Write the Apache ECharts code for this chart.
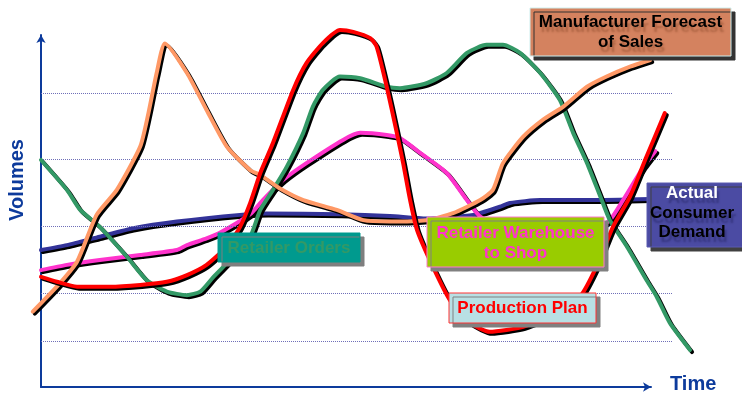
<!DOCTYPE html>
<html>
<head>
<meta charset="utf-8">
<script src="https://cdn.jsdelivr.net/npm/echarts@6/dist/echarts.min.js"></script>
<style>
  html, body { margin: 0; padding: 0; background: #ffffff; }
  #chart { width: 742px; height: 393px; }
</style>
</head>
<body>
<div id="chart"></div>
<script>
// Volumes over time along a supply chain, in relative units (time 0-100, volume 0-100)
const demand = [[0,38.9],[4.1,40.3],[9.3,42.7],[14.6,45.1],[21.5,47.0],[31.5,48.9],[35.7,49.3],[47.3,49.1],[55.2,48.6],[61.0,47.9],[68.4,48.9],[72.6,51.2],[74.2,52.3],[79.0,53.1],[86.9,53.1],[96.4,53.4]];
const warehouse = [[0,33.2],[4.1,34.7],[9.3,36.1],[15.7,37.5],[21.5,38.9],[23.1,40.3],[26.2,42.2],[28.3,43.8],[33.1,49.1],[35.1,53.1],[38.3,58.8],[42.0,63.6],[47.8,70.2],[50.5,72.2],[54.7,71.6],[56.8,70.7],[60.0,66.5],[64.2,60.8],[67.4,53.1],[69.5,48.4],[74.2,44.0],[80.5,41.8],[86.9,44.0],[90.0,47.4],[92.1,53.1],[95.3,62.5],[97.2,67.0]];
const orders = [[0,64.5],[4.1,56.0],[6.2,50.3],[9.3,45.5],[13.6,37.0],[16.7,30.4],[19.9,27.1],[23.1,26.1],[25.2,27.1],[27.3,31.3],[30.4,37.0],[33.1,42.7],[34.7,50.3],[36.7,56.0],[38.9,62.6],[41.5,72.2],[43.0,79.6],[44.6,84.4],[47.3,88.2],[50.5,87.7],[54.7,85.3],[56.8,84.9],[61.0,86.3],[64.2,89.2],[67.4,94.9],[70.5,97.2],[73.1,97.2],[75.8,94.9],[79.0,89.2],[82.1,81.5],[84.2,72.2],[86.4,63.6],[88.5,54.1],[90.0,47.4],[92.7,39.9],[95.8,30.4],[97.4,25.7],[99.5,18.2],[102.7,10.5]];
const forecast = [[-1.3,21.4],[2.5,28.5],[5.7,35.6],[8.8,48.9],[12.0,56.0],[15.7,68.3],[17.0,77.8],[18.3,89.2],[19.6,97.6],[23.1,89.2],[26.2,78.7],[29.4,68.3],[33.1,61.6],[34.7,60.2],[37.8,56.4],[41.5,53.1],[46.8,50.3],[51.0,47.4],[55.2,47.0],[61.0,47.4],[65.2,49.4],[69.5,53.1],[71.5,56.0],[73.1,63.6],[76.3,71.1],[79.4,75.9],[82.6,79.6],[86.4,85.3],[89.5,88.2],[93.2,91.0],[96.4,92.9]];
const production = [[0,31.3],[2.5,29.9],[5.7,28.5],[10.9,28.5],[15.7,29.0],[19.9,29.9],[23.1,31.8],[26.2,34.7],[29.4,39.9],[31.5,45.5],[33.1,52.3],[34.7,60.8],[36.7,69.3],[39.9,84.4],[42.0,92.0],[44.6,97.7],[47.3,101.4],[49.4,100.9],[52.1,99.1],[53.1,96.7],[54.7,85.3],[56.3,72.2],[57.3,63.6],[58.4,53.1],[59.5,44.6],[62.0,34.2],[64.7,24.7],[67.9,18.2],[71.0,15.7],[76.3,17.1],[81.6,21.0],[85.3,25.7],[87.9,34.2],[90.5,45.5],[93.2,54.1],[95.8,65.4],[98.7,77.8]];

// Dotted reference levels, drawn across the time span 0-100
const gridLevels = [13.1, 26.7, 45.7, 64.8, 83.5];

const seriesNames = ['Actual Consumer Demand', 'Retailer Warehouse to Shop', 'Retailer Orders', 'Manufacturer Forecast of Sales', 'Production Plan'];
const seriesData = [demand, warehouse, orders, forecast, production];
const seriesColors = ['#333399', '#ff33cc', '#339966', '#ff9966', '#ff0000'];

const axisColor = '#0d3b9c';
const FONT = '"Liberation Sans", Arial, sans-serif';

// Plot frame: 0-100 on both axes spans x 41..673 px and y 387..35 px.
// The data grid is padded a little so curves may run past the axes.
const PX_X = 6.32, PX_Y = 3.52;
const X_MIN = -3, X_MAX = 104, Y_MIN = 0, Y_MAX = 104;

// Callout boxes: geometry, colours and text lines
const callouts = [
  { x: 530, y: 8, w: 201, h: 48, fill: '#d4825f', stroke: '#cdeeee', shadow: '#333333',
    cx: 630.5, cy: 32, lh: 20, ghost: 'rgba(110,50,20,0.35)',
    lines: [{ t: 'Manufacturer Forecast', c: '#000000' }, { t: 'of Sales', c: '#000000' }] },
  { x: 647, y: 183, w: 110, h: 64, fill: '#4b4ba3', stroke: '#5a5ab0', shadow: '#404040',
    cx: 692, cy: 213, lh: 19.5, ghost: 'rgba(20,20,70,0.35)',
    lines: [{ t: 'Actual', c: '#ffffff' }, { t: 'Consumer', c: '#000000' }, { t: 'Demand', c: '#000000' }] },
  { x: 427, y: 217, w: 177, h: 50, fill: '#99cc00', stroke: '#ff77cc', shadow: '#808080',
    cx: 515.5, cy: 243, lh: 20, ghost: null,
    lines: [{ t: 'Retailer Warehouse', c: '#ff33cc' }, { t: 'to Shop', c: '#ff33cc' }] },
  { x: 449, y: 293, w: 147, h: 30, fill: '#b8e0e4', stroke: '#ff3333', shadow: '#808080',
    cx: 522.5, cy: 308, lh: 20, ghost: null,
    lines: [{ t: 'Production Plan', c: '#ff0000' }] },
  { x: 218, y: 233, w: 142, h: 29, fill: '#009a8e', stroke: '#009a8e', shadow: '#7f7f7f',
    cx: 289, cy: 248, lh: 20, ghost: null,
    lines: [{ t: 'Retailer Orders', c: '#339966' }] }
];

const graphics = [];
callouts.forEach(function (b) {
  graphics.push({
    type: 'rect', z: 100,
    shape: { x: b.x, y: b.y, width: b.w, height: b.h },
    style: { fill: b.fill, stroke: b.stroke, lineWidth: 1,
             shadowColor: b.shadow, shadowOffsetX: 4, shadowOffsetY: 4, shadowBlur: 0 }
  });
  const n = b.lines.length;
  b.lines.forEach(function (ln, i) {
    const style = {
      text: ln.t, fill: ln.c, font: 'bold 17px ' + FONT,
      align: 'center', verticalAlign: 'middle'
    };
    if (b.ghost) {
      style.textShadowColor = b.ghost;
      style.textShadowOffsetX = 2;
      style.textShadowOffsetY = 5;
      style.textShadowBlur = 2;
    }
    graphics.push({
      type: 'text', z: 101,
      x: b.cx, y: b.cy + (i - (n - 1) / 2) * b.lh,
      style: style
    });
  });
});

// Axis titles
graphics.push({
  type: 'text', z: 101, x: 17, y: 180, rotation: Math.PI / 2,
  style: { text: 'Volumes', fill: axisColor, font: 'bold 20px ' + FONT, align: 'center', verticalAlign: 'middle' }
});
graphics.push({
  type: 'text', z: 101, x: 670, y: 384,
  style: { text: 'Time', fill: axisColor, font: 'bold 20px ' + FONT, align: 'left', verticalAlign: 'middle' }
});

const lineSeries = seriesData.map(function (d, i) {
  return {
    name: seriesNames[i],
    type: 'line',
    xAxisIndex: 0, yAxisIndex: 0,
    data: d,
    clip: false,
    smooth: 0.2,
    showSymbol: false,
    symbol: 'none',
    z: 3 + i,
    lineStyle: {
      color: seriesColors[i], width: 4, cap: 'round', join: 'round',
      shadowColor: '#000000', shadowOffsetX: 2, shadowOffsetY: 2, shadowBlur: 0
    }
  };
});

const hiddenAxis = { show: false, axisLine: { show: false }, splitLine: { show: false } };
const arrowLine = {
  show: true, onZero: false, symbol: ['none', 'arrow'], symbolSize: [7, 8],
  lineStyle: { color: axisColor, width: 2 }
};

const chart = echarts.init(document.getElementById('chart'), null, { renderer: 'canvas' });
chart.setOption({
  animation: false,
  backgroundColor: '#ffffff',
  grid: [
    // data grid (padded)
    { left: 41 + X_MIN * PX_X, right: 742 - (41 + X_MAX * PX_X),
      top: 387 - Y_MAX * PX_Y, bottom: 6 },
    // axis frame with arrows
    { left: 41, right: 91, top: 35, bottom: 6 }
  ],
  xAxis: [
    Object.assign({ gridIndex: 0, type: 'value', min: X_MIN, max: X_MAX }, hiddenAxis),
    { gridIndex: 1, type: 'value', min: 0, max: 100, axisLine: arrowLine,
      axisTick: { show: false }, axisLabel: { show: false }, splitLine: { show: false } }
  ],
  yAxis: [
    Object.assign({ gridIndex: 0, type: 'value', min: Y_MIN, max: Y_MAX }, hiddenAxis),
    { gridIndex: 1, type: 'value', min: 0, max: 100, axisLine: arrowLine,
      axisTick: { show: false }, axisLabel: { show: false }, splitLine: { show: false } }
  ],
  series: [{
    name: 'levels', type: 'line', xAxisIndex: 0, yAxisIndex: 0, data: [], z: 1,
    markLine: {
      silent: true, symbol: 'none', animation: false,
      label: { show: false },
      lineStyle: { type: 'dotted', color: '#6f6fb8', width: 1 },
      data: gridLevels.map(function (v) { return [{ coord: [0, v] }, { coord: [100, v] }]; })
    }
  }].concat(lineSeries),
  graphic: graphics
});
</script>
</body>
</html>
